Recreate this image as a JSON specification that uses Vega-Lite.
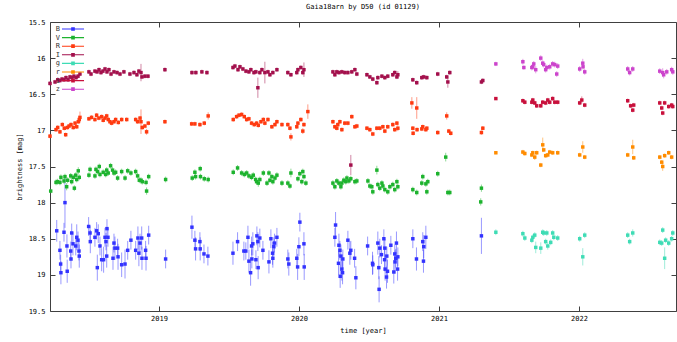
{
"$schema":"https://vega.github.io/schema/vega-lite/v6.json",
"width":626,"height":289,
"autosize":{"type":"none"},
"padding":{"left":50,"top":22,"right":1,"bottom":31},
"background":"white",
"title":{"text":"Gaia18arn by D50 (id 01129)","font":"DejaVu Sans Mono","fontSize":7,"fontWeight":"normal","color":"#000","offset":8,"anchor":"middle"},
"config":{"view":{"stroke":"#404040","strokeWidth":1},"axis":{"labelFont":"DejaVu Sans Mono","labelFontSize":7,"titleFont":"DejaVu Sans Mono","titleFontSize":7,"titleFontWeight":"normal","labelColor":"#000","titleColor":"#000","domain":false,"tickColor":"#404040","tickSize":5,"offset":-5,"grid":false}},
"data":{"values":[
{"f":"B","t":2018.269,"m":18.39,"e":0.15},{"f":"B","t":2018.328,"m":18.0,"e":0.35},{"f":"B","t":2018.292,"m":18.66,"e":0.13},{"f":"B","t":2018.297,"m":18.85,"e":0.13},{"f":"B","t":2018.299,"m":18.97,"e":0.16},{"f":"B","t":2018.321,"m":18.41,"e":0.13},{"f":"B","t":2018.342,"m":18.6,"e":0.16},{"f":"B","t":2018.344,"m":18.95,"e":0.16},{"f":"B","t":2018.369,"m":18.67,"e":0.13},{"f":"B","t":2018.371,"m":18.78,"e":0.13},{"f":"B","t":2018.376,"m":18.42,"e":0.13},{"f":"B","t":2018.385,"m":18.57,"e":0.16},{"f":"B","t":2018.405,"m":18.6,"e":0.13},{"f":"B","t":2018.412,"m":18.48,"e":0.18},{"f":"B","t":2018.421,"m":18.52,"e":0.12},{"f":"B","t":2018.428,"m":18.67,"e":0.13},{"f":"B","t":2018.43,"m":18.74,"e":0.16},{"f":"B","t":2018.497,"m":18.33,"e":0.13},{"f":"B","t":2018.507,"m":18.42,"e":0.1},{"f":"B","t":2018.509,"m":18.54,"e":0.16},{"f":"B","t":2018.542,"m":18.48,"e":0.13},{"f":"B","t":2018.554,"m":18.39,"e":0.12},{"f":"B","t":2018.566,"m":18.43,"e":0.13},{"f":"B","t":2018.559,"m":18.9,"e":0.18},{"f":"B","t":2018.578,"m":18.6,"e":0.13},{"f":"B","t":2018.59,"m":18.79,"e":0.16},{"f":"B","t":2018.604,"m":18.79,"e":0.18},{"f":"B","t":2018.614,"m":18.48,"e":0.13},{"f":"B","t":2018.621,"m":18.54,"e":0.12},{"f":"B","t":2018.628,"m":18.36,"e":0.13},{"f":"B","t":2018.626,"m":18.74,"e":0.16},{"f":"B","t":2018.635,"m":18.48,"e":0.13},{"f":"B","t":2018.671,"m":18.77,"e":0.16},{"f":"B","t":2018.678,"m":18.56,"e":0.13},{"f":"B","t":2018.685,"m":18.63,"e":0.16},{"f":"B","t":2018.704,"m":18.63,"e":0.13},{"f":"B","t":2018.707,"m":18.75,"e":0.18},{"f":"B","t":2018.733,"m":18.86,"e":0.17},{"f":"B","t":2018.757,"m":18.85,"e":0.2},{"f":"B","t":2018.776,"m":18.66,"e":0.13},{"f":"B","t":2018.799,"m":18.52,"e":0.13},{"f":"B","t":2018.833,"m":18.66,"e":0.13},{"f":"B","t":2018.849,"m":18.49,"e":0.16},{"f":"B","t":2018.856,"m":18.7,"e":0.18},{"f":"B","t":2018.864,"m":18.56,"e":0.13},{"f":"B","t":2018.876,"m":18.49,"e":0.16},{"f":"B","t":2018.878,"m":18.77,"e":0.16},{"f":"B","t":2018.904,"m":18.66,"e":0.13},{"f":"B","t":2018.907,"m":18.77,"e":0.17},{"f":"B","t":2018.926,"m":18.45,"e":0.13},{"f":"B","t":2019.047,"m":18.78,"e":0.13},
{"f":"B","t":2019.235,"m":18.34,"e":0.16},{"f":"B","t":2019.256,"m":18.52,"e":0.13},{"f":"B","t":2019.261,"m":18.64,"e":0.16},{"f":"B","t":2019.292,"m":18.54,"e":0.13},{"f":"B","t":2019.294,"m":18.64,"e":0.16},{"f":"B","t":2019.321,"m":18.71,"e":0.13},{"f":"B","t":2019.349,"m":18.74,"e":0.13},
{"f":"B","t":2019.528,"m":18.7,"e":0.16},{"f":"B","t":2019.561,"m":18.54,"e":0.13},{"f":"B","t":2019.606,"m":18.67,"e":0.13},{"f":"B","t":2019.62,"m":18.67,"e":0.12},{"f":"B","t":2019.635,"m":18.48,"e":0.16},{"f":"B","t":2019.642,"m":18.81,"e":0.16},{"f":"B","t":2019.654,"m":18.97,"e":0.18},{"f":"B","t":2019.661,"m":18.6,"e":0.13},{"f":"B","t":2019.663,"m":18.78,"e":0.13},{"f":"B","t":2019.67,"m":18.57,"e":0.16},{"f":"B","t":2019.692,"m":18.79,"e":0.13},{"f":"B","t":2019.699,"m":18.46,"e":0.13},{"f":"B","t":2019.706,"m":18.54,"e":0.13},{"f":"B","t":2019.708,"m":18.9,"e":0.16},{"f":"B","t":2019.72,"m":18.49,"e":0.13},{"f":"B","t":2019.742,"m":18.66,"e":0.13},{"f":"B","t":2019.785,"m":18.82,"e":0.16},{"f":"B","t":2019.799,"m":18.5,"e":0.13},{"f":"B","t":2019.811,"m":18.7,"e":0.16},{"f":"B","t":2019.813,"m":18.77,"e":0.13},{"f":"B","t":2019.82,"m":18.61,"e":0.13},{"f":"B","t":2019.825,"m":18.56,"e":0.13},{"f":"B","t":2019.842,"m":18.48,"e":0.13},{"f":"B","t":2019.92,"m":18.78,"e":0.13},{"f":"B","t":2019.927,"m":18.85,"e":0.16},{"f":"B","t":2019.984,"m":18.77,"e":0.13},{"f":"B","t":2019.99,"m":18.89,"e":0.18},{"f":"B","t":2019.999,"m":18.61,"e":0.13},{"f":"B","t":2020.006,"m":18.27,"e":0.13},{"f":"B","t":2020.035,"m":18.57,"e":0.16},{"f":"B","t":2020.037,"m":18.89,"e":0.18},
{"f":"B","t":2020.261,"m":18.31,"e":0.18},{"f":"B","t":2020.256,"m":18.48,"e":0.13},{"f":"B","t":2020.285,"m":18.59,"e":0.16},{"f":"B","t":2020.292,"m":18.66,"e":0.13},{"f":"B","t":2020.282,"m":18.84,"e":0.16},{"f":"B","t":2020.299,"m":18.74,"e":0.16},{"f":"B","t":2020.294,"m":19.02,"e":0.16},{"f":"B","t":2020.306,"m":18.92,"e":0.16},{"f":"B","t":2020.313,"m":18.78,"e":0.13},{"f":"B","t":2020.311,"m":18.97,"e":0.16},{"f":"B","t":2020.349,"m":18.52,"e":0.13},{"f":"B","t":2020.363,"m":18.7,"e":0.16},{"f":"B","t":2020.37,"m":18.66,"e":0.13},{"f":"B","t":2020.397,"m":18.77,"e":0.13},{"f":"B","t":2020.406,"m":19.04,"e":0.16},{"f":"B","t":2020.49,"m":18.6,"e":0.13},{"f":"B","t":2020.525,"m":18.84,"e":0.16},{"f":"B","t":2020.527,"m":18.86,"e":0.13},{"f":"B","t":2020.563,"m":18.56,"e":0.16},{"f":"B","t":2020.57,"m":18.9,"e":0.16},{"f":"B","t":2020.572,"m":19.2,"e":0.18},{"f":"B","t":2020.577,"m":18.63,"e":0.13},{"f":"B","t":2020.589,"m":18.72,"e":0.13},{"f":"B","t":2020.606,"m":18.5,"e":0.13},{"f":"B","t":2020.613,"m":18.63,"e":0.13},{"f":"B","t":2020.611,"m":18.79,"e":0.16},{"f":"B","t":2020.615,"m":18.92,"e":0.16},{"f":"B","t":2020.625,"m":19.03,"e":0.16},{"f":"B","t":2020.627,"m":18.74,"e":0.13},{"f":"B","t":2020.632,"m":18.95,"e":0.16},{"f":"B","t":2020.656,"m":18.59,"e":0.13},{"f":"B","t":2020.677,"m":18.96,"e":0.16},{"f":"B","t":2020.684,"m":18.71,"e":0.13},{"f":"B","t":2020.686,"m":18.82,"e":0.16},{"f":"B","t":2020.691,"m":18.77,"e":0.13},{"f":"B","t":2020.696,"m":18.56,"e":0.16},{"f":"B","t":2020.704,"m":18.92,"e":0.16},{"f":"B","t":2020.706,"m":18.75,"e":0.13},{"f":"B","t":2020.813,"m":18.5,"e":0.13},{"f":"B","t":2020.839,"m":18.78,"e":0.16},{"f":"B","t":2020.884,"m":18.54,"e":0.13},{"f":"B","t":2020.891,"m":18.61,"e":0.16},{"f":"B","t":2020.889,"m":18.81,"e":0.16},{"f":"B","t":2020.906,"m":18.48,"e":0.16},{"f":"B","t":2021.303,"m":18.46,"e":0.25},
{"f":"V","t":2018.226,"m":17.84,"e":0.03},{"f":"V","t":2018.264,"m":17.72,"e":0.04},{"f":"V","t":2018.274,"m":17.71,"e":0.04},{"f":"V","t":2018.292,"m":17.72,"e":0.04},{"f":"V","t":2018.299,"m":17.65,"e":0.04},{"f":"V","t":2018.321,"m":17.7,"e":0.04},{"f":"V","t":2018.328,"m":17.64,"e":0.04},{"f":"V","t":2018.34,"m":17.78,"e":0.05},{"f":"V","t":2018.347,"m":17.69,"e":0.04},{"f":"V","t":2018.369,"m":17.63,"e":0.04},{"f":"V","t":2018.376,"m":17.71,"e":0.04},{"f":"V","t":2018.387,"m":17.65,"e":0.04},{"f":"V","t":2018.395,"m":17.8,"e":0.04},{"f":"V","t":2018.405,"m":17.62,"e":0.04},{"f":"V","t":2018.412,"m":17.68,"e":0.04},{"f":"V","t":2018.423,"m":17.56,"e":0.05},{"f":"V","t":2018.43,"m":17.65,"e":0.04},{"f":"V","t":2018.499,"m":17.62,"e":0.04},{"f":"V","t":2018.507,"m":17.54,"e":0.04},{"f":"V","t":2018.542,"m":17.63,"e":0.04},{"f":"V","t":2018.549,"m":17.54,"e":0.04},{"f":"V","t":2018.561,"m":17.57,"e":0.04},{"f":"V","t":2018.573,"m":17.5,"e":0.04},{"f":"V","t":2018.578,"m":17.61,"e":0.04},{"f":"V","t":2018.601,"m":17.58,"e":0.04},{"f":"V","t":2018.619,"m":17.61,"e":0.04},{"f":"V","t":2018.626,"m":17.55,"e":0.04},{"f":"V","t":2018.637,"m":17.59,"e":0.04},{"f":"V","t":2018.654,"m":17.49,"e":0.04},{"f":"V","t":2018.668,"m":17.55,"e":0.04},{"f":"V","t":2018.678,"m":17.59,"e":0.04},{"f":"V","t":2018.69,"m":17.58,"e":0.04},{"f":"V","t":2018.704,"m":17.66,"e":0.04},{"f":"V","t":2018.733,"m":17.57,"e":0.04},{"f":"V","t":2018.757,"m":17.66,"e":0.04},{"f":"V","t":2018.776,"m":17.56,"e":0.04},{"f":"V","t":2018.799,"m":17.59,"e":0.04},{"f":"V","t":2018.833,"m":17.57,"e":0.04},{"f":"V","t":2018.847,"m":17.63,"e":0.04},{"f":"V","t":2018.859,"m":17.69,"e":0.04},{"f":"V","t":2018.871,"m":17.69,"e":0.04},{"f":"V","t":2018.88,"m":17.71,"e":0.04},{"f":"V","t":2018.907,"m":17.72,"e":0.04},{"f":"V","t":2018.911,"m":17.84,"e":0.05},{"f":"V","t":2018.926,"m":17.64,"e":0.04},{"f":"V","t":2019.047,"m":17.68,"e":0.04},{"f":"V","t":2019.237,"m":17.66,"e":0.04},{"f":"V","t":2019.256,"m":17.58,"e":0.04},{"f":"V","t":2019.261,"m":17.64,"e":0.04},{"f":"V","t":2019.294,"m":17.53,"e":0.04},{"f":"V","t":2019.296,"m":17.64,"e":0.04},{"f":"V","t":2019.323,"m":17.67,"e":0.04},{"f":"V","t":2019.351,"m":17.68,"e":0.04},
{"f":"V","t":2019.53,"m":17.58,"e":0.04},{"f":"V","t":2019.561,"m":17.52,"e":0.04},{"f":"V","t":2019.59,"m":17.59,"e":0.04},{"f":"V","t":2019.609,"m":17.61,"e":0.04},{"f":"V","t":2019.626,"m":17.59,"e":0.04},{"f":"V","t":2019.642,"m":17.63,"e":0.04},{"f":"V","t":2019.661,"m":17.65,"e":0.04},{"f":"V","t":2019.673,"m":17.62,"e":0.04},{"f":"V","t":2019.69,"m":17.68,"e":0.04},{"f":"V","t":2019.697,"m":17.71,"e":0.04},{"f":"V","t":2019.709,"m":17.73,"e":0.05},{"f":"V","t":2019.72,"m":17.68,"e":0.04},{"f":"V","t":2019.745,"m":17.59,"e":0.04},{"f":"V","t":2019.771,"m":17.73,"e":0.04},{"f":"V","t":2019.785,"m":17.59,"e":0.04},{"f":"V","t":2019.792,"m":17.69,"e":0.04},{"f":"V","t":2019.806,"m":17.64,"e":0.04},{"f":"V","t":2019.813,"m":17.71,"e":0.04},{"f":"V","t":2019.828,"m":17.66,"e":0.04},{"f":"V","t":2019.842,"m":17.62,"e":0.04},{"f":"V","t":2019.878,"m":17.73,"e":0.04},{"f":"V","t":2019.92,"m":17.73,"e":0.04},{"f":"V","t":2019.935,"m":17.77,"e":0.04},{"f":"V","t":2019.942,"m":17.59,"e":0.06},{"f":"V","t":2019.992,"m":17.67,"e":0.04},{"f":"V","t":2020.006,"m":17.6,"e":0.04},{"f":"V","t":2020.02,"m":17.71,"e":0.04},{"f":"V","t":2020.027,"m":17.57,"e":0.04},{"f":"V","t":2020.035,"m":17.64,"e":0.04},{"f":"V","t":2020.049,"m":17.73,"e":0.04},
{"f":"V","t":2020.242,"m":17.73,"e":0.04},{"f":"V","t":2020.256,"m":17.78,"e":0.04},{"f":"V","t":2020.27,"m":17.7,"e":0.04},{"f":"V","t":2020.285,"m":17.73,"e":0.04},{"f":"V","t":2020.299,"m":17.78,"e":0.04},{"f":"V","t":2020.306,"m":17.73,"e":0.04},{"f":"V","t":2020.32,"m":17.69,"e":0.04},{"f":"V","t":2020.334,"m":17.71,"e":0.04},{"f":"V","t":2020.342,"m":17.66,"e":0.04},{"f":"V","t":2020.356,"m":17.7,"e":0.04},{"f":"V","t":2020.37,"m":17.67,"e":0.04},{"f":"V","t":2020.399,"m":17.71,"e":0.04},{"f":"V","t":2020.413,"m":17.7,"e":0.04},{"f":"V","t":2020.492,"m":17.7,"e":0.04},{"f":"V","t":2020.506,"m":17.77,"e":0.04},{"f":"V","t":2020.52,"m":17.78,"e":0.04},{"f":"V","t":2020.527,"m":17.85,"e":0.04},{"f":"V","t":2020.556,"m":17.55,"e":0.06},{"f":"V","t":2020.563,"m":17.75,"e":0.04},{"f":"V","t":2020.577,"m":17.8,"e":0.04},{"f":"V","t":2020.592,"m":17.73,"e":0.04},{"f":"V","t":2020.599,"m":17.77,"e":0.04},{"f":"V","t":2020.613,"m":17.82,"e":0.04},{"f":"V","t":2020.634,"m":17.85,"e":0.04},{"f":"V","t":2020.649,"m":17.78,"e":0.04},{"f":"V","t":2020.67,"m":17.75,"e":0.04},{"f":"V","t":2020.684,"m":17.82,"e":0.04},{"f":"V","t":2020.699,"m":17.71,"e":0.04},{"f":"V","t":2020.706,"m":17.78,"e":0.04},{"f":"V","t":2020.813,"m":17.82,"e":0.04},{"f":"V","t":2020.841,"m":17.86,"e":0.04},{"f":"V","t":2020.877,"m":17.73,"e":0.04},{"f":"V","t":2020.884,"m":17.64,"e":0.04},{"f":"V","t":2020.906,"m":17.74,"e":0.04},{"f":"V","t":2020.913,"m":17.85,"e":0.04},{"f":"V","t":2020.92,"m":17.71,"e":0.04},{"f":"V","t":2020.991,"m":17.6,"e":0.04},{"f":"V","t":2021.048,"m":17.37,"e":0.06},{"f":"V","t":2021.063,"m":17.86,"e":0.04},{"f":"V","t":2021.077,"m":17.86,"e":0.04},{"f":"V","t":2021.303,"m":17.8,"e":0.05},{"f":"V","t":2021.298,"m":17.99,"e":0.05},
{"f":"R","t":2018.221,"m":17.08,"e":0.03},{"f":"R","t":2018.264,"m":16.99,"e":0.03},{"f":"R","t":2018.276,"m":16.96,"e":0.03},{"f":"R","t":2018.292,"m":17.02,"e":0.03},{"f":"R","t":2018.309,"m":16.92,"e":0.03},{"f":"R","t":2018.323,"m":16.97,"e":0.03},{"f":"R","t":2018.333,"m":17.06,"e":0.03},{"f":"R","t":2018.345,"m":16.96,"e":0.03},{"f":"R","t":2018.357,"m":16.94,"e":0.03},{"f":"R","t":2018.371,"m":16.92,"e":0.03},{"f":"R","t":2018.387,"m":16.96,"e":0.03},{"f":"R","t":2018.4,"m":16.9,"e":0.03},{"f":"R","t":2018.412,"m":16.95,"e":0.03},{"f":"R","t":2018.423,"m":16.88,"e":0.03},{"f":"R","t":2018.43,"m":16.85,"e":0.04},{"f":"R","t":2018.435,"m":16.82,"e":0.08},{"f":"R","t":2018.499,"m":16.84,"e":0.03},{"f":"R","t":2018.518,"m":16.82,"e":0.03},{"f":"R","t":2018.542,"m":16.85,"e":0.03},{"f":"R","t":2018.554,"m":16.79,"e":0.03},{"f":"R","t":2018.57,"m":16.83,"e":0.03},{"f":"R","t":2018.59,"m":16.81,"e":0.03},{"f":"R","t":2018.601,"m":16.86,"e":0.03},{"f":"R","t":2018.614,"m":16.83,"e":0.03},{"f":"R","t":2018.626,"m":16.8,"e":0.03},{"f":"R","t":2018.637,"m":16.85,"e":0.03},{"f":"R","t":2018.649,"m":16.88,"e":0.03},{"f":"R","t":2018.661,"m":16.9,"e":0.03},{"f":"R","t":2018.678,"m":16.88,"e":0.03},{"f":"R","t":2018.69,"m":16.85,"e":0.03},{"f":"R","t":2018.709,"m":16.89,"e":0.03},{"f":"R","t":2018.733,"m":16.85,"e":0.03},{"f":"R","t":2018.769,"m":16.85,"e":0.03},{"f":"R","t":2018.833,"m":16.85,"e":0.03},{"f":"R","t":2018.847,"m":16.88,"e":0.03},{"f":"R","t":2018.864,"m":16.83,"e":0.03},{"f":"R","t":2018.871,"m":16.88,"e":0.17},{"f":"R","t":2018.88,"m":16.96,"e":0.03},{"f":"R","t":2018.899,"m":16.94,"e":0.03},{"f":"R","t":2018.911,"m":17.02,"e":0.04},{"f":"R","t":2018.923,"m":16.9,"e":0.03},{"f":"R","t":2019.042,"m":16.88,"e":0.03},{"f":"R","t":2019.233,"m":16.91,"e":0.03},{"f":"R","t":2019.256,"m":16.91,"e":0.03},{"f":"R","t":2019.292,"m":16.92,"e":0.03},{"f":"R","t":2019.323,"m":16.9,"e":0.03},{"f":"R","t":2019.351,"m":16.8,"e":0.05},
{"f":"R","t":2019.53,"m":16.85,"e":0.03},{"f":"R","t":2019.554,"m":16.81,"e":0.03},{"f":"R","t":2019.571,"m":16.79,"e":0.03},{"f":"R","t":2019.59,"m":16.78,"e":0.03},{"f":"R","t":2019.609,"m":16.81,"e":0.03},{"f":"R","t":2019.626,"m":16.85,"e":0.03},{"f":"R","t":2019.642,"m":16.84,"e":0.03},{"f":"R","t":2019.661,"m":16.9,"e":0.03},{"f":"R","t":2019.68,"m":16.92,"e":0.03},{"f":"R","t":2019.697,"m":16.9,"e":0.03},{"f":"R","t":2019.709,"m":16.93,"e":0.03},{"f":"R","t":2019.728,"m":16.88,"e":0.03},{"f":"R","t":2019.745,"m":16.85,"e":0.03},{"f":"R","t":2019.756,"m":16.9,"e":0.03},{"f":"R","t":2019.778,"m":16.85,"e":0.03},{"f":"R","t":2019.806,"m":16.95,"e":0.03},{"f":"R","t":2019.828,"m":16.92,"e":0.03},{"f":"R","t":2019.842,"m":16.88,"e":0.03},{"f":"R","t":2019.878,"m":16.92,"e":0.03},{"f":"R","t":2019.92,"m":16.92,"e":0.03},{"f":"R","t":2019.935,"m":16.97,"e":0.03},{"f":"R","t":2019.942,"m":17.09,"e":0.05},{"f":"R","t":2019.984,"m":16.95,"e":0.03},{"f":"R","t":2019.992,"m":16.9,"e":0.03},{"f":"R","t":2020.013,"m":16.85,"e":0.03},{"f":"R","t":2020.027,"m":17.01,"e":0.04},{"f":"R","t":2020.035,"m":16.92,"e":0.03},{"f":"R","t":2020.063,"m":16.74,"e":0.1},
{"f":"R","t":2020.242,"m":16.88,"e":0.03},{"f":"R","t":2020.256,"m":16.95,"e":0.03},{"f":"R","t":2020.27,"m":16.97,"e":0.03},{"f":"R","t":2020.277,"m":16.92,"e":0.03},{"f":"R","t":2020.292,"m":16.88,"e":0.03},{"f":"R","t":2020.306,"m":16.99,"e":0.03},{"f":"R","t":2020.327,"m":16.9,"e":0.03},{"f":"R","t":2020.349,"m":16.9,"e":0.03},{"f":"R","t":2020.377,"m":16.81,"e":0.03},{"f":"R","t":2020.399,"m":16.95,"e":0.03},{"f":"R","t":2020.413,"m":16.94,"e":0.03},{"f":"R","t":2020.485,"m":16.97,"e":0.03},{"f":"R","t":2020.506,"m":16.99,"e":0.03},{"f":"R","t":2020.527,"m":17.05,"e":0.03},{"f":"R","t":2020.556,"m":16.97,"e":0.03},{"f":"R","t":2020.577,"m":16.97,"e":0.03},{"f":"R","t":2020.599,"m":16.95,"e":0.03},{"f":"R","t":2020.613,"m":17.01,"e":0.03},{"f":"R","t":2020.634,"m":16.95,"e":0.03},{"f":"R","t":2020.67,"m":16.92,"e":0.03},{"f":"R","t":2020.684,"m":16.99,"e":0.03},{"f":"R","t":2020.699,"m":16.9,"e":0.03},{"f":"R","t":2020.706,"m":16.97,"e":0.04},{"f":"R","t":2020.806,"m":16.62,"e":0.08},{"f":"R","t":2020.813,"m":16.97,"e":0.03},{"f":"R","t":2020.815,"m":17.04,"e":0.03},{"f":"R","t":2020.841,"m":16.69,"e":0.15},{"f":"R","t":2020.843,"m":16.99,"e":0.03},{"f":"R","t":2020.877,"m":16.98,"e":0.03},{"f":"R","t":2020.884,"m":16.95,"e":0.03},{"f":"R","t":2020.906,"m":16.99,"e":0.03},{"f":"R","t":2020.913,"m":16.97,"e":0.03},{"f":"R","t":2020.991,"m":17.03,"e":0.03},{"f":"R","t":2021.055,"m":16.8,"e":0.05},{"f":"R","t":2021.07,"m":17.01,"e":0.03},{"f":"R","t":2021.084,"m":17.04,"e":0.03},{"f":"R","t":2021.303,"m":17.03,"e":0.03},{"f":"R","t":2021.313,"m":16.97,"e":0.03},
{"f":"I","t":2018.221,"m":16.35,"e":0.03},{"f":"I","t":2018.257,"m":16.33,"e":0.03},{"f":"I","t":2018.276,"m":16.3,"e":0.03},{"f":"I","t":2018.292,"m":16.31,"e":0.03},{"f":"I","t":2018.307,"m":16.29,"e":0.03},{"f":"I","t":2018.321,"m":16.3,"e":0.03},{"f":"I","t":2018.335,"m":16.27,"e":0.03},{"f":"I","t":2018.35,"m":16.3,"e":0.03},{"f":"I","t":2018.364,"m":16.26,"e":0.03},{"f":"I","t":2018.378,"m":16.27,"e":0.03},{"f":"I","t":2018.392,"m":16.25,"e":0.03},{"f":"I","t":2018.407,"m":16.27,"e":0.03},{"f":"I","t":2018.421,"m":16.25,"e":0.03},{"f":"I","t":2018.435,"m":16.22,"e":0.03},{"f":"I","t":2018.499,"m":16.19,"e":0.03},{"f":"I","t":2018.514,"m":16.22,"e":0.03},{"f":"I","t":2018.542,"m":16.18,"e":0.03},{"f":"I","t":2018.557,"m":16.19,"e":0.03},{"f":"I","t":2018.571,"m":16.16,"e":0.03},{"f":"I","t":2018.585,"m":16.2,"e":0.03},{"f":"I","t":2018.599,"m":16.18,"e":0.03},{"f":"I","t":2018.614,"m":16.15,"e":0.03},{"f":"I","t":2018.628,"m":16.19,"e":0.03},{"f":"I","t":2018.642,"m":16.16,"e":0.03},{"f":"I","t":2018.657,"m":16.22,"e":0.03},{"f":"I","t":2018.678,"m":16.19,"e":0.03},{"f":"I","t":2018.7,"m":16.2,"e":0.03},{"f":"I","t":2018.721,"m":16.22,"e":0.03},{"f":"I","t":2018.749,"m":16.19,"e":0.03},{"f":"I","t":2018.792,"m":16.22,"e":0.03},{"f":"I","t":2018.821,"m":16.2,"e":0.03},{"f":"I","t":2018.842,"m":16.23,"e":0.03},{"f":"I","t":2018.856,"m":16.18,"e":0.03},{"f":"I","t":2018.871,"m":16.2,"e":0.12},{"f":"I","t":2018.878,"m":16.26,"e":0.03},{"f":"I","t":2018.899,"m":16.25,"e":0.03},{"f":"I","t":2018.921,"m":16.25,"e":0.03},{"f":"I","t":2019.042,"m":16.16,"e":0.03},{"f":"I","t":2019.235,"m":16.2,"e":0.03},{"f":"I","t":2019.263,"m":16.2,"e":0.03},{"f":"I","t":2019.306,"m":16.19,"e":0.03},{"f":"I","t":2019.342,"m":16.2,"e":0.03},
{"f":"I","t":2019.528,"m":16.13,"e":0.03},{"f":"I","t":2019.542,"m":16.11,"e":0.03},{"f":"I","t":2019.564,"m":16.16,"e":0.03},{"f":"I","t":2019.578,"m":16.12,"e":0.03},{"f":"I","t":2019.599,"m":16.15,"e":0.03},{"f":"I","t":2019.621,"m":16.18,"e":0.03},{"f":"I","t":2019.642,"m":16.19,"e":0.03},{"f":"I","t":2019.656,"m":16.16,"e":0.03},{"f":"I","t":2019.678,"m":16.2,"e":0.03},{"f":"I","t":2019.692,"m":16.19,"e":0.03},{"f":"I","t":2019.706,"m":16.41,"e":0.14},{"f":"I","t":2019.72,"m":16.2,"e":0.03},{"f":"I","t":2019.735,"m":16.16,"e":0.03},{"f":"I","t":2019.756,"m":16.2,"e":0.15},{"f":"I","t":2019.778,"m":16.19,"e":0.03},{"f":"I","t":2019.792,"m":16.23,"e":0.03},{"f":"I","t":2019.813,"m":16.2,"e":0.03},{"f":"I","t":2019.842,"m":16.16,"e":0.03},{"f":"I","t":2019.92,"m":16.2,"e":0.03},{"f":"I","t":2019.942,"m":16.23,"e":0.03},{"f":"I","t":2019.984,"m":16.2,"e":0.03},{"f":"I","t":2019.992,"m":16.16,"e":0.03},{"f":"I","t":2020.013,"m":16.13,"e":0.03},{"f":"I","t":2020.027,"m":16.2,"e":0.03},{"f":"I","t":2020.035,"m":16.16,"e":0.1},
{"f":"I","t":2020.242,"m":16.19,"e":0.03},{"f":"I","t":2020.256,"m":16.23,"e":0.03},{"f":"I","t":2020.27,"m":16.19,"e":0.03},{"f":"I","t":2020.285,"m":16.2,"e":0.03},{"f":"I","t":2020.306,"m":16.19,"e":0.03},{"f":"I","t":2020.327,"m":16.2,"e":0.03},{"f":"I","t":2020.349,"m":16.2,"e":0.03},{"f":"I","t":2020.377,"m":16.19,"e":0.03},{"f":"I","t":2020.399,"m":16.16,"e":0.03},{"f":"I","t":2020.413,"m":16.22,"e":0.03},{"f":"I","t":2020.37,"m":17.48,"e":0.14},{"f":"I","t":2020.485,"m":16.23,"e":0.03},{"f":"I","t":2020.506,"m":16.26,"e":0.03},{"f":"I","t":2020.527,"m":16.29,"e":0.03},{"f":"I","t":2020.556,"m":16.34,"e":0.03},{"f":"I","t":2020.563,"m":16.27,"e":0.03},{"f":"I","t":2020.592,"m":16.25,"e":0.03},{"f":"I","t":2020.613,"m":16.27,"e":0.03},{"f":"I","t":2020.634,"m":16.25,"e":0.03},{"f":"I","t":2020.67,"m":16.23,"e":0.03},{"f":"I","t":2020.684,"m":16.2,"e":0.03},{"f":"I","t":2020.699,"m":16.26,"e":0.03},{"f":"I","t":2020.706,"m":16.23,"e":0.05},{"f":"I","t":2020.813,"m":16.3,"e":0.03},{"f":"I","t":2020.841,"m":16.34,"e":0.03},{"f":"I","t":2020.877,"m":16.27,"e":0.03},{"f":"I","t":2020.891,"m":16.26,"e":0.03},{"f":"I","t":2020.913,"m":16.27,"e":0.03},{"f":"I","t":2020.991,"m":16.22,"e":0.03},{"f":"I","t":2021.055,"m":16.26,"e":0.03},{"f":"I","t":2021.063,"m":16.33,"e":0.08},{"f":"I","t":2021.077,"m":16.2,"e":0.03},{"f":"I","t":2021.303,"m":16.33,"e":0.03},{"f":"I","t":2021.313,"m":16.31,"e":0.03},
{"f":"g","t":2021.406,"m":18.41,"e":0.04},{"f":"g","t":2021.599,"m":18.43,"e":0.04},{"f":"g","t":2021.613,"m":18.49,"e":0.04},{"f":"g","t":2021.663,"m":18.52,"e":0.04},{"f":"g","t":2021.67,"m":18.48,"e":0.04},{"f":"g","t":2021.684,"m":18.45,"e":0.04},{"f":"g","t":2021.691,"m":18.62,"e":0.08},{"f":"g","t":2021.727,"m":18.63,"e":0.08},{"f":"g","t":2021.741,"m":18.41,"e":0.04},{"f":"g","t":2021.748,"m":18.42,"e":0.04},{"f":"g","t":2021.762,"m":18.54,"e":0.04},{"f":"g","t":2021.77,"m":18.42,"e":0.04},{"f":"g","t":2021.777,"m":18.6,"e":0.05},{"f":"g","t":2021.798,"m":18.55,"e":0.04},{"f":"g","t":2021.812,"m":18.42,"e":0.04},{"f":"g","t":2021.82,"m":18.48,"e":0.04},{"f":"g","t":2021.848,"m":18.49,"e":0.04},{"f":"g","t":2022.005,"m":18.5,"e":0.04},{"f":"g","t":2022.027,"m":18.75,"e":0.12},{"f":"g","t":2022.041,"m":18.45,"e":0.04},{"f":"g","t":2022.348,"m":18.45,"e":0.04},{"f":"g","t":2022.362,"m":18.54,"e":0.04},{"f":"g","t":2022.384,"m":18.42,"e":0.05},{"f":"g","t":2022.577,"m":18.55,"e":0.04},{"f":"g","t":2022.591,"m":18.56,"e":0.04},{"f":"g","t":2022.598,"m":18.38,"e":0.04},{"f":"g","t":2022.612,"m":18.77,"e":0.15},{"f":"g","t":2022.619,"m":18.52,"e":0.04},{"f":"g","t":2022.641,"m":18.56,"e":0.04},{"f":"g","t":2022.662,"m":18.5,"e":0.04},{"f":"g","t":2022.67,"m":18.42,"e":0.04},
{"f":"r","t":2021.406,"m":17.31,"e":0.02},{"f":"r","t":2021.599,"m":17.3,"e":0.03},{"f":"r","t":2021.613,"m":17.32,"e":0.03},{"f":"r","t":2021.663,"m":17.34,"e":0.03},{"f":"r","t":2021.67,"m":17.31,"e":0.03},{"f":"r","t":2021.684,"m":17.37,"e":0.04},{"f":"r","t":2021.698,"m":17.31,"e":0.03},{"f":"r","t":2021.727,"m":17.48,"e":0.03},{"f":"r","t":2021.741,"m":17.2,"e":0.1},{"f":"r","t":2021.748,"m":17.27,"e":0.03},{"f":"r","t":2021.762,"m":17.35,"e":0.03},{"f":"r","t":2021.777,"m":17.34,"e":0.03},{"f":"r","t":2021.791,"m":17.3,"e":0.03},{"f":"r","t":2021.812,"m":17.31,"e":0.03},{"f":"r","t":2021.848,"m":17.31,"e":0.03},{"f":"r","t":2022.005,"m":17.34,"e":0.03},{"f":"r","t":2022.027,"m":17.23,"e":0.08},{"f":"r","t":2022.041,"m":17.37,"e":0.03},{"f":"r","t":2022.348,"m":17.34,"e":0.03},{"f":"r","t":2022.384,"m":17.23,"e":0.1},{"f":"r","t":2022.391,"m":17.38,"e":0.03},{"f":"r","t":2022.577,"m":17.37,"e":0.03},{"f":"r","t":2022.591,"m":17.44,"e":0.03},{"f":"r","t":2022.598,"m":17.5,"e":0.06},{"f":"r","t":2022.612,"m":17.35,"e":0.03},{"f":"r","t":2022.641,"m":17.31,"e":0.03},{"f":"r","t":2022.662,"m":17.37,"e":0.03},
{"f":"i","t":2021.406,"m":16.56,"e":0.02},{"f":"i","t":2021.599,"m":16.59,"e":0.03},{"f":"i","t":2021.613,"m":16.61,"e":0.03},{"f":"i","t":2021.663,"m":16.61,"e":0.03},{"f":"i","t":2021.67,"m":16.58,"e":0.03},{"f":"i","t":2021.684,"m":16.62,"e":0.03},{"f":"i","t":2021.698,"m":16.66,"e":0.03},{"f":"i","t":2021.727,"m":16.66,"e":0.03},{"f":"i","t":2021.741,"m":16.61,"e":0.03},{"f":"i","t":2021.762,"m":16.62,"e":0.03},{"f":"i","t":2021.777,"m":16.58,"e":0.03},{"f":"i","t":2021.791,"m":16.61,"e":0.03},{"f":"i","t":2021.812,"m":16.56,"e":0.03},{"f":"i","t":2021.827,"m":16.61,"e":0.03},{"f":"i","t":2021.848,"m":16.61,"e":0.03},{"f":"i","t":2022.005,"m":16.62,"e":0.03},{"f":"i","t":2022.02,"m":16.58,"e":0.05},{"f":"i","t":2022.041,"m":16.65,"e":0.03},{"f":"i","t":2022.348,"m":16.59,"e":0.03},{"f":"i","t":2022.369,"m":16.66,"e":0.03},{"f":"i","t":2022.384,"m":16.72,"e":0.03},{"f":"i","t":2022.391,"m":16.65,"e":0.03},{"f":"i","t":2022.577,"m":16.62,"e":0.03},{"f":"i","t":2022.591,"m":16.69,"e":0.03},{"f":"i","t":2022.598,"m":16.76,"e":0.03},{"f":"i","t":2022.612,"m":16.62,"e":0.03},{"f":"i","t":2022.641,"m":16.67,"e":0.03},{"f":"i","t":2022.662,"m":16.65,"e":0.03},{"f":"i","t":2022.67,"m":16.67,"e":0.03},
{"f":"z","t":2021.406,"m":16.08,"e":0.03},{"f":"z","t":2021.599,"m":16.05,"e":0.04},{"f":"z","t":2021.606,"m":16.13,"e":0.03},{"f":"z","t":2021.663,"m":16.13,"e":0.04},{"f":"z","t":2021.67,"m":16.12,"e":0.04},{"f":"z","t":2021.677,"m":16.08,"e":0.04},{"f":"z","t":2021.691,"m":16.16,"e":0.05},{"f":"z","t":2021.727,"m":16.0,"e":0.04},{"f":"z","t":2021.741,"m":16.07,"e":0.04},{"f":"z","t":2021.748,"m":16.09,"e":0.04},{"f":"z","t":2021.762,"m":16.16,"e":0.04},{"f":"z","t":2021.77,"m":16.13,"e":0.04},{"f":"z","t":2021.791,"m":16.12,"e":0.04},{"f":"z","t":2021.812,"m":16.08,"e":0.04},{"f":"z","t":2021.827,"m":16.09,"e":0.04},{"f":"z","t":2021.841,"m":16.22,"e":0.04},{"f":"z","t":2021.848,"m":16.11,"e":0.04},{"f":"z","t":2022.005,"m":16.15,"e":0.04},{"f":"z","t":2022.027,"m":16.07,"e":0.06},{"f":"z","t":2022.029,"m":16.12,"e":0.04},{"f":"z","t":2022.041,"m":16.19,"e":0.04},{"f":"z","t":2022.348,"m":16.15,"e":0.04},{"f":"z","t":2022.362,"m":16.2,"e":0.04},{"f":"z","t":2022.384,"m":16.15,"e":0.04},{"f":"z","t":2022.577,"m":16.18,"e":0.04},{"f":"z","t":2022.598,"m":16.2,"e":0.06},{"f":"z","t":2022.605,"m":16.23,"e":0.05},{"f":"z","t":2022.627,"m":16.19,"e":0.04},{"f":"z","t":2022.662,"m":16.16,"e":0.04},{"f":"z","t":2022.67,"m":16.19,"e":0.04}
]},
"layer":[
{"mark":{"type":"errorbar","opacity":0.5,"thickness":1},
 "encoding":{
  "x":{"field":"t","type":"quantitative","scale":{"domain":[2018.221,2022.693],"nice":false,"zero":false},"axis":{"orient":"bottom","values":[2019,2020,2021,2022],"format":"d","title":"time [year]","labelPadding":3,"titlePadding":5}},
  "y":{"field":"m","type":"quantitative","scale":{"domain":[15.5,19.5],"reverse":true,"nice":false,"zero":false},"axis":{"orient":"left","values":[15.5,16,16.5,17,17.5,18,18.5,19,19.5],"format":"~g","title":"brightness [mag]","labelPadding":5,"titlePadding":6}},
  "yError":{"field":"e"},
  "color":{"field":"f","type":"nominal","scale":{"domain":["B","V","R","I","g","r","i","z"],"range":["#3333ff","#1db32e","#ff3a10","#a3104c","#3fdcb5","#ff8c00","#c8103c","#cc44cc"]},"legend":{"orient":"none","legendX":3,"legendY":3,"title":null,"labelFont":"DejaVu Sans Mono","labelFontSize":7,"labelColor":"#333","labelAlign":"right","labelOffset":-17,"symbolType":"M-3,-0.15H3V0.15H-3Z M-0.5,-0.5H0.5V0.5H-0.5Z","symbolSize":54,"symbolOffset":16,"rowPadding":1.6,"symbolStrokeWidth":0,"symbolOpacity":1}}
 }},
{"mark":{"type":"point","shape":"square","filled":true,"size":12,"opacity":1},
 "encoding":{
  "x":{"field":"t","type":"quantitative","axis":{"orient":"top","values":[2019,2020,2021,2022],"labels":false,"title":null}},
  "y":{"field":"m","type":"quantitative","axis":{"orient":"right","values":[15.5,16,16.5,17,17.5,18,18.5,19,19.5],"labels":false,"title":null}},
  "color":{"field":"f","type":"nominal","legend":{"orient":"none","legendX":3,"legendY":3,"title":null,"labelFont":"DejaVu Sans Mono","labelFontSize":7,"labelColor":"#333","labelAlign":"right","labelOffset":-17,"symbolType":"M-3,-0.15H3V0.15H-3Z M-0.5,-0.5H0.5V0.5H-0.5Z","symbolSize":54,"symbolOffset":16,"rowPadding":1.6,"symbolStrokeWidth":0,"symbolOpacity":1}}
 }}
],
"resolve":{"axis":{"x":"independent","y":"independent"}}
}
